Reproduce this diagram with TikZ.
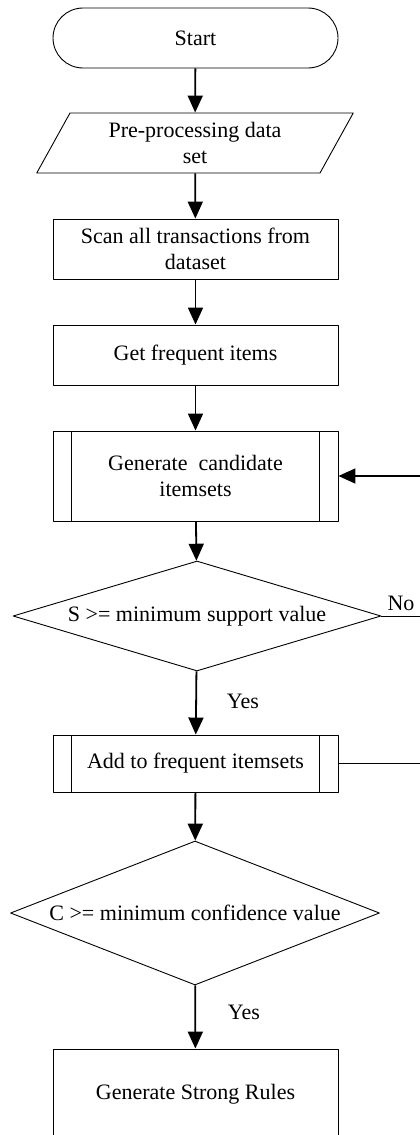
\documentclass[tikz,border=0pt]{standalone}
\usepackage{fontspec}
\setmainfont{Liberation Serif}
\usetikzlibrary{arrows.meta,shapes.geometric}

\begin{document}
\begin{tikzpicture}[line join=round,x=1pt,y=-1pt,
  >={Triangle[length=17pt,width=15pt]},
  every node/.style={font=\fontsize{22}{26}\selectfont},
  box/.style={draw,line width=0.9pt,rectangle,minimum width=285pt,align=center,inner sep=0pt},
  term/.style={box,rounded corners=30pt,minimum height=60pt},
  io/.style={draw,line width=0.9pt,trapezium,trapezium left angle=61,trapezium right angle=119,
    minimum width=316pt,minimum height=60pt,align=center,inner sep=0pt},
  decision/.style={draw,line width=0.9pt,diamond,inner sep=0pt},
  flow/.style={->,line width=1.8pt}]
\path[use as bounding box,clip] (0,0) rectangle (420,1135);
% steps
\node[term] (start) at (195.5,38) {Start};
\node[io] (prep) at (195,143) {Pre-processing data\\set};
\node[box,minimum height=60pt] (scan) at (195.5,249) {Scan all transactions from\\dataset};
\node[box,minimum height=60pt] (freq) at (195.5,355) {Get frequent items};
\node[box,minimum height=90pt] (cand) at (195.5,476) {Generate\ \ candidate\\itemsets};
\node[decision,minimum width=368pt,minimum height=110pt,aspect=3.3] (supp) at (197,616) {S >= minimum support value};
\node[box,minimum height=57pt] (add) at (195.5,763.5) {Add to frequent itemsets};
\node[decision,minimum width=369pt,minimum height=144pt,aspect=2.5] (conf) at (195,913) {C >= minimum confidence value};
\node[box,minimum height=90pt] (rules) at (195.5,1094) {Generate Strong Rules};
% sub-process bars
\foreach \n in {cand,add}{
  \draw[line width=0.9pt] ([xshift=19pt]\n.north west) -- ([xshift=19pt]\n.south west);
  \draw[line width=0.9pt] ([xshift=-19pt]\n.north east) -- ([xshift=-19pt]\n.south east);
}
% labels
\node (no) at (401,603) {No};
\node (yes1) at (243,701) {Yes};
\node (yes2) at (244,1012) {Yes};
% flow
\draw[flow] (start) -- (prep);
\draw[flow] (prep) -- (scan);
\draw[flow] (scan) -- (freq);
\draw[flow] (freq) -- (cand);
\draw[flow] (cand) -- (supp);
\draw[flow] (supp) -- (add);
\draw[flow] (add) -- (conf);
\draw[flow] (conf) -- (rules);
% loop back
\coordinate (noend) at (420,616);
\coordinate (loopin) at (420,476);
\coordinate (addend) at (420,763.5);
\draw[line width=0.9pt] (supp.east) -- (noend);
\draw[flow] (loopin) -- (cand.east);
\draw[line width=0.9pt] (add.east) -- (addend);
\end{tikzpicture}
\end{document}
